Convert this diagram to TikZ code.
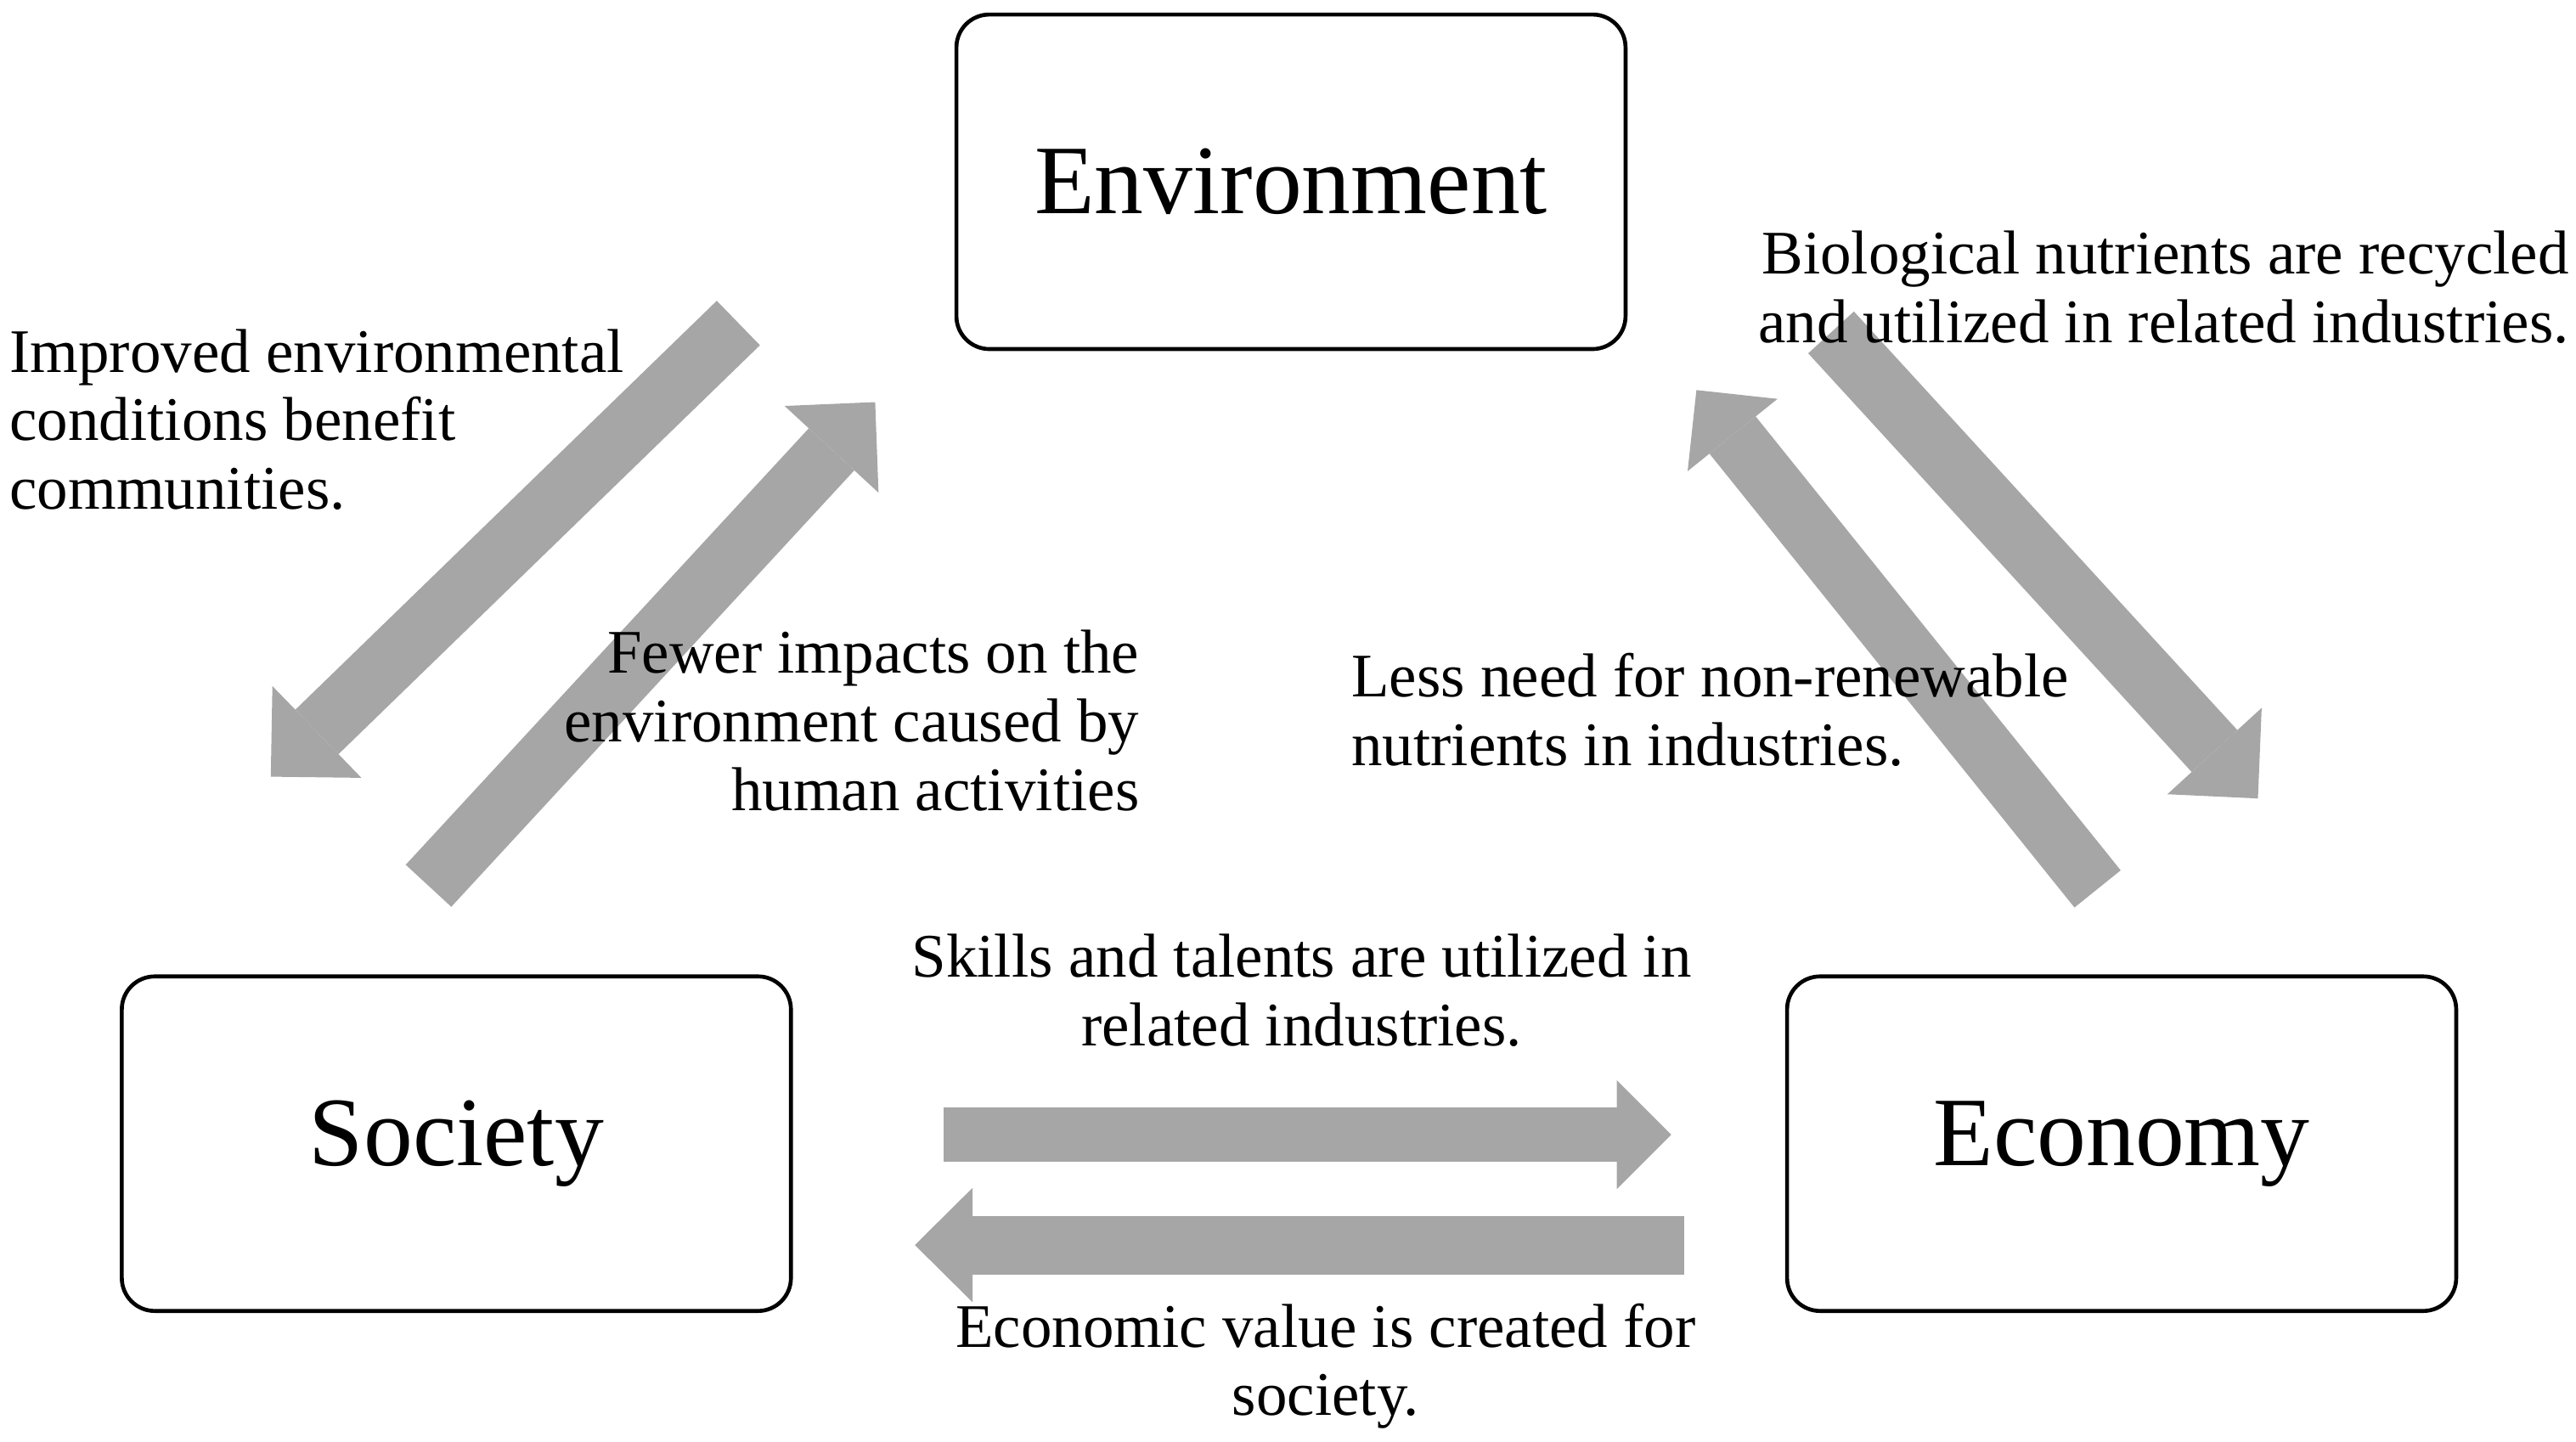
\documentclass[tikz,border=0pt]{standalone}
\usepackage{fontspec}
\setmainfont{Liberation Serif}
\usetikzlibrary{positioning,arrows.meta}
\definecolor{arrowgray}{RGB}{166,166,166}
\newcommand{\lblfont}{\fontsize{18.8}{20.8}\selectfont}
\newcommand{\boxfont}{\fontsize{29.8}{32}\selectfont}

\begin{document}
\begin{tikzpicture}[x=0.5pt, y=-0.5pt,
  sector/.style={draw, line width=1.2pt, rounded corners=10pt, minimum width=203pt, minimum height=101.5pt, font=\boxfont, inner sep=0pt},
  note/.style={font=\lblfont, inner sep=0pt},
  slant/.style={arrowgray, line width=18.8pt, -{Triangle[length=19.5pt, width=38.8pt, line width=0pt]}},
  flat/.style={arrowgray, line width=17pt, -{Triangle[length=17pt, width=34pt, line width=0pt]}}]
\useasboundingbox (0,0) rectangle (1563,875);

\node [sector] (env) at (783.3,110.3) {Environment};
\node [sector] (soc) at (276.9,694) {Society};
\node [sector, right=301pt of soc] (eco) {Economy};

% block arrows between the three sectors
\coordinate (e2s-a) at (448,196);
\coordinate (e2s-b) at (164.3,471.3);
\coordinate (s2e-a) at (260,537.5);
\coordinate (s2e-b) at (531,244);
\coordinate (e2c-a) at (1111,201.7);
\coordinate (e2c-b) at (1370,484.5);
\coordinate (c2e-a) at (1272.7,539.4);
\coordinate (c2e-b) at (1029.3,236.7);
\coordinate (s2c-a) at (572.4,688.5);
\coordinate (s2c-b) at (1014,688.5);
\coordinate (c2s-a) at (1022,755.5);
\coordinate (c2s-b) at (555.1,755.5);

\draw[slant] (e2s-a) -- (e2s-b);
\draw[slant] (s2e-a) -- (s2e-b);
\draw[slant] (e2c-a) -- (e2c-b);
\draw[slant, line width=18pt, -{Triangle[length=17.5pt, width=35pt, line width=0pt]}] (c2e-a) -- (c2e-b);
\draw[flat, line width=16.5pt, -{Triangle[length=16.5pt, width=33pt, line width=0pt]}] (s2c-a) -- (s2c-b);
\draw[flat, line width=17.8pt, -{Triangle[length=17.5pt, width=34.7pt, line width=0pt]}] (c2s-a) -- (c2s-b);

% labels (base = last line)
\node [note, align=left, anchor=base west] (improve) at (5.5,309) {Improved environmental\\conditions benefit\\communities.};
\node [note, align=right, anchor=base east] (fewer) at (691.6,491.8) {Fewer impacts on the\\environment caused by\\human activities};
\node [note, align=right, anchor=base east] (recycle) at (1559,208) {Biological nutrients are recycled\\and utilized in related industries.};
\node [note, align=left, anchor=base west] (lessneed) at (819.6,464.5) {Less need for non-renewable\\nutrients in industries.};
\node [note, align=center, anchor=base] (skills) at (789.8,634.4) {Skills and talents are utilized in\\related industries.};
\node [note, align=center, anchor=base] (value) at (804.4,859) {Economic value is created for\\society.};
\end{tikzpicture}
\end{document}
